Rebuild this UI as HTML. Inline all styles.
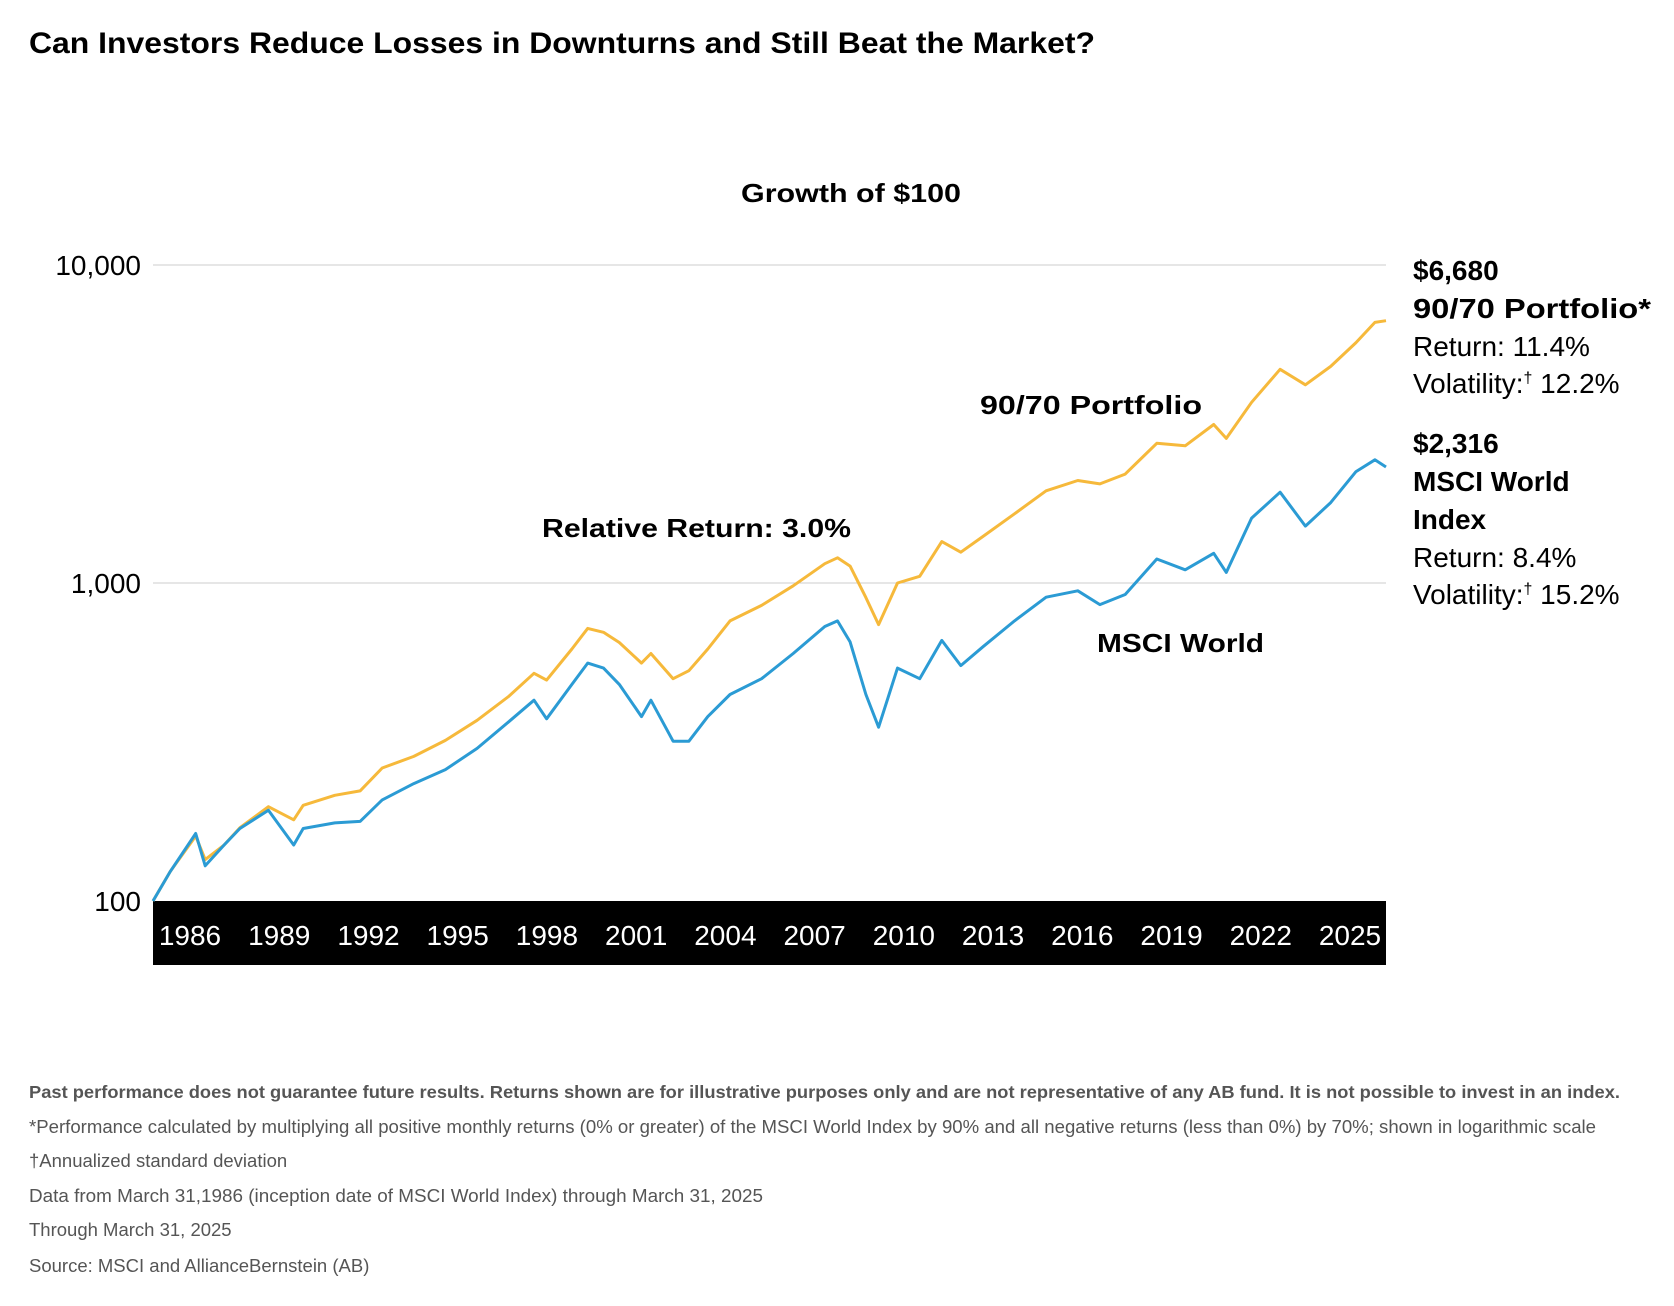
<!DOCTYPE html>
<html><head><meta charset="utf-8"><style>
html,body{margin:0;padding:0;background:#fff;}
svg{display:block;font-family:"Liberation Sans",sans-serif;}
</style></head><body>
<svg id="chart" width="1674" height="1306" viewBox="0 0 1674 1306">
<text x="29" y="53" font-size="30" font-weight="bold" textLength="1066" lengthAdjust="spacingAndGlyphs">Can Investors Reduce Losses in Downturns and Still Beat the Market?</text>
<text x="741" y="202" font-size="26" font-weight="bold" textLength="220" lengthAdjust="spacingAndGlyphs">Growth of $100</text>
<g id="grid"></g>
<rect x="153" y="901" width="1233" height="64" fill="#000"/>
<g id="xlabels"></g>
<g id="series"></g>
<text x="542" y="537" font-size="26" font-weight="bold" textLength="309" lengthAdjust="spacingAndGlyphs">Relative Return: 3.0%</text>
<text x="980" y="414" font-size="26" font-weight="bold" textLength="222" lengthAdjust="spacingAndGlyphs">90/70 Portfolio</text>
<text x="1097" y="652" font-size="26" font-weight="bold" textLength="167" lengthAdjust="spacingAndGlyphs">MSCI World</text>
<g font-size="28">
<text x="1413" y="280" font-weight="bold">$6,680</text>
<text x="1413" y="318" font-weight="bold" textLength="238" lengthAdjust="spacingAndGlyphs">90/70 Portfolio*</text>
<text x="1413" y="356">Return: 11.4%</text>
<text x="1413" y="393">Volatility:<tspan font-size="16" dy="-10">†</tspan><tspan dy="10"> 12.2%</tspan></text>
<text x="1413" y="453" font-weight="bold">$2,316</text>
<text x="1413" y="491" font-weight="bold">MSCI World</text>
<text x="1413" y="529" font-weight="bold">Index</text>
<text x="1413" y="567">Return: 8.4%</text>
<text x="1413" y="604">Volatility:<tspan font-size="16" dy="-10">†</tspan><tspan dy="10"> 15.2%</tspan></text>
</g>
<g fill="#555" font-size="18.5">
<text x="29" y="1098" font-size="17.5" font-weight="bold" textLength="1591" lengthAdjust="spacingAndGlyphs">Past performance does not guarantee future results. Returns shown are for illustrative purposes only and are not representative of any AB fund. It is not possible to invest in an index.</text>
<text x="29" y="1133" textLength="1567" lengthAdjust="spacingAndGlyphs">*Performance calculated by multiplying all positive monthly returns (0% or greater) of the MSCI World Index by 90% and all negative returns (less than 0%) by 70%; shown in logarithmic scale</text>
<text x="29" y="1167">†Annualized standard deviation</text>
<text x="29" y="1202" textLength="734" lengthAdjust="spacingAndGlyphs">Data from March 31,1986 (inception date of MSCI World Index) through March 31, 2025</text>
<text x="29" y="1236">Through March 31, 2025</text>
<text x="29" y="1272">Source: MSCI and AllianceBernstein (AB)</text>
</g>
</svg>
<script>
const times = [1986.25,1986.8,1987.6,1987.9,1988.5,1989.0,1989.9,1990.7,1991.0,1992.0,1992.8,1993.5,1994.5,1995.5,1996.5,1997.5,1998.3,1998.7,1999.5,2000.0,2000.5,2001.0,2001.7,2002.0,2002.7,2003.2,2003.8,2004.5,2005.5,2006.5,2007.5,2007.9,2008.3,2008.8,2009.2,2009.8,2010.5,2011.2,2011.8,2012.5,2013.5,2014.5,2015.5,2016.2,2017.0,2018.0,2018.9,2019.8,2020.2,2021.0,2021.9,2022.7,2023.5,2024.3,2024.9,2025.25];
const msciValues = [100,124,163,129,150,169,193,150,169,176,178,208,234,259,302,366,428,374,480,560,540,480,380,428,318,318,380,446,500,600,730,760,653,446,352,540,500,660,550,630,760,902,945,855,920,1190,1100,1240,1080,1600,1930,1510,1790,2240,2440,2316];
const portfolioValues = [100,124,160,135,150,170,198,180,200,215,222,262,285,320,370,440,520,495,620,720,700,650,560,600,500,530,620,760,850,980,1150,1200,1130,900,740,1000,1050,1350,1250,1400,1650,1950,2100,2050,2200,2750,2700,3150,2850,3700,4700,4200,4800,5700,6600,6680];
const yTicks = [100,1000,10000];
const yTickLabels = ["100","1,000","10,000"];
const xTickLabels = ["1986","1989","1992","1995","1998","2001","2004","2007","2010","2013","2016","2019","2022","2025"];

const NS = "http://www.w3.org/2000/svg";
const X0 = 153, X1 = 1386, T0 = 1986.25, T1 = 2025.25;
function xScale(t){ return X0 + (t - T0) * (X1 - X0) / (T1 - T0); }
function yScale(v){ return 901 - 318 * Math.log10(v / 100); }

const grid = document.getElementById('grid');
yTicks.forEach((v, i) => {
  const y = yScale(v);
  if (i > 0) {
    const l = document.createElementNS(NS, 'line');
    l.setAttribute('x1', X0); l.setAttribute('x2', X1);
    l.setAttribute('y1', y); l.setAttribute('y2', y);
    l.setAttribute('stroke', '#ccc'); l.setAttribute('stroke-width', '1');
    
    
    grid.appendChild(l);
  }
  const t = document.createElementNS(NS, 'text');
  t.setAttribute('x', 141); t.setAttribute('y', y + 10);
  t.setAttribute('text-anchor', 'end'); t.setAttribute('font-size', '28');
  t.textContent = yTickLabels[i];
  
  
  grid.appendChild(t);
});

const xl = document.getElementById('xlabels');
xTickLabels.forEach((lab, i) => {
  const t = document.createElementNS(NS, 'text');
  t.setAttribute('x', 190 + i * (1350 - 190) / (xTickLabels.length - 1));
  t.setAttribute('y', 945);
  t.setAttribute('text-anchor', 'middle'); t.setAttribute('font-size', '28');
  t.setAttribute('fill', '#fff');
  t.textContent = lab;
  
  
  xl.appendChild(t);
});

const sg = document.getElementById('series');
function drawLine(vals, color, name){
  const p = document.createElementNS(NS, 'path');
  p.setAttribute('d', vals.map((v, i) => (i ? 'L' : 'M') + xScale(times[i]).toFixed(1) + ',' + yScale(v).toFixed(1)).join(''));
  p.setAttribute('fill', 'none'); p.setAttribute('stroke', color);
  p.setAttribute('stroke-width', '3'); p.setAttribute('stroke-linejoin', 'round');
  
  
  sg.appendChild(p);
}
drawLine(portfolioValues, '#f6b93b', 'portfolio-line');
drawLine(msciValues, '#2b9bd4', 'msci-world-line');
</script>
</body></html>
